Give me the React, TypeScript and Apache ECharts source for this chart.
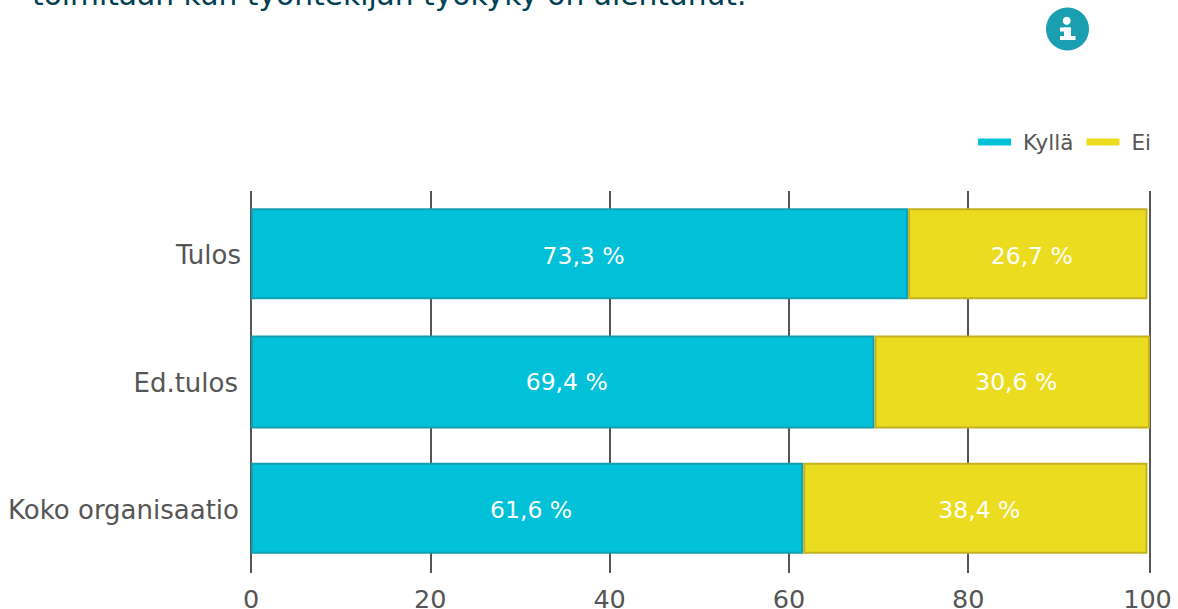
import React, { useEffect, useRef } from "react";
import * as echarts from "echarts";

const categories = ["Tulos", "Ed.tulos", "Koko organisaatio"];
const seriesNames = ["Kyllä", "Ei"];
// Bar lengths
const kylla = [73.3, 69.55, 61.6];
const ei = [26.7, 30.73, 38.4];
// Value labels as printed in the picture
const kyllaLabels = ["73,3 %", "69,4 %", "61,6 %"];
const eiLabels = ["26,7 %", "30,6 %", "38,4 %"];
const tickLabels = [0, 20, 40, 60, 80, 100];
const gridLineValues = [0, 20, 40, 60, 80, 100.28];
const labelDrop = [2, 0, 2];
const titleText = "toimitaan kun työntekijän työkyky on alentunut.";
const FONT = "DejaVu Sans";
const GREY = "#555555";
const CYAN = "#00c1d8";
const YELLOW = "#ecdc20";

const catRich = (pad: number[]) => ({ fontFamily: FONT, fontSize: 26, color: GREY, padding: pad });

const barSeries = (
  name: string,
  values: number[],
  labels: string[],
  color: string,
  border: string,
  rows: number[],
  stack: string,
  width: number,
) => ({
  name,
  type: "bar",
  stack,
  barWidth: width,
  barGap: "-100%",
  data: values.map((v, i) =>
    rows.includes(i) ? { value: v, label: { offset: [4, labelDrop[i]] } } : null,
  ),
  itemStyle: { color, borderColor: border, borderWidth: 2 },
  label: {
    show: true,
    position: "inside",
    color: "#ffffff",
    fontFamily: FONT,
    fontSize: 23.5,
    formatter: (p: any) => labels[p.dataIndex],
  },
});

export default function App() {
  const ref = useRef<HTMLDivElement>(null);
  useEffect(() => {
    document.body.style.margin = "0";
    const chart = echarts.init(ref.current!, null, { renderer: "svg" });
    chart.setOption({
      animation: false,
      textStyle: { fontFamily: FONT },
      color: [CYAN, YELLOW],
      grid: { left: 251, right: 28, top: 191, bottom: 36, containLabel: false, outerBoundsMode: "none" },
      legend: {
        top: 126,
        right: 22,
        itemWidth: 33,
        itemHeight: 7,
        itemGap: 13,
        icon: "rect",
        data: seriesNames,
        itemStyle: { borderWidth: 0 },
        textStyle: { fontFamily: FONT, fontSize: 21.5, color: GREY, padding: [0, 0, 0, 7] },
      },
      xAxis: {
        type: "value",
        min: 0,
        max: 100.28,
        axisLine: { show: false },
        axisTick: { show: false, customValues: gridLineValues },
        splitLine: { show: true, lineStyle: { color: GREY, width: 2 } },
        axisLabel: {
          customValues: tickLabels,
          fontFamily: FONT,
          fontSize: 25.5,
          color: GREY,
          margin: 13,
          showMinLabel: true,
          showMaxLabel: true,
        },
      },
      yAxis: {
        type: "category",
        inverse: true,
        data: categories,
        axisLine: { show: false },
        axisTick: { show: false },
        axisLabel: {
          margin: 10,
          formatter: (v: string, i: number) => `{r${i}|${v}}`,
          rich: {
            r0: catRich([1, 0, 0, 0]),
            r1: catRich([2, 3, 0, 0]),
            r2: catRich([2, 2, 0, 0]),
          },
        },
      },
      series: [
        barSeries(seriesNames[0], kylla, kyllaLabels, CYAN, "#129fb0", [0, 2], "outer", 91),
        barSeries(seriesNames[1], ei, eiLabels, YELLOW, "#c4b023", [0, 2], "outer", 91),
        barSeries(seriesNames[0], kylla, kyllaLabels, CYAN, "#129fb0", [1], "middle", 93),
        barSeries(seriesNames[1], ei, eiLabels, YELLOW, "#c4b023", [1], "middle", 93),
      ],
      graphic: [
        {
          type: "text",
          left: 32,
          top: -21,
          style: { text: titleText, fontFamily: FONT, fontSize: 29.7, fill: "#003f52" },
        },
        { type: "circle", shape: { cx: 1067.5, cy: 29, r: 21.5 }, style: { fill: "#1a9fb0" } },
        { type: "circle", shape: { cx: 1066.7, cy: 20.7, r: 4 }, style: { fill: "#ffffff" } },
        { type: "rect", shape: { x: 1060, y: 27.5, width: 11, height: 4 }, style: { fill: "#ffffff" } },
        { type: "rect", shape: { x: 1064, y: 27.5, width: 7, height: 10 }, style: { fill: "#ffffff" } },
        { type: "rect", shape: { x: 1060, y: 36, width: 15.5, height: 4 }, style: { fill: "#ffffff" } },
      ],
    });
    return () => chart.dispose();
  }, []);
  return <div ref={ref} style={{ width: 1178, height: 609, position: "absolute", left: 0, top: 0, overflow: "hidden" }} />;
}
